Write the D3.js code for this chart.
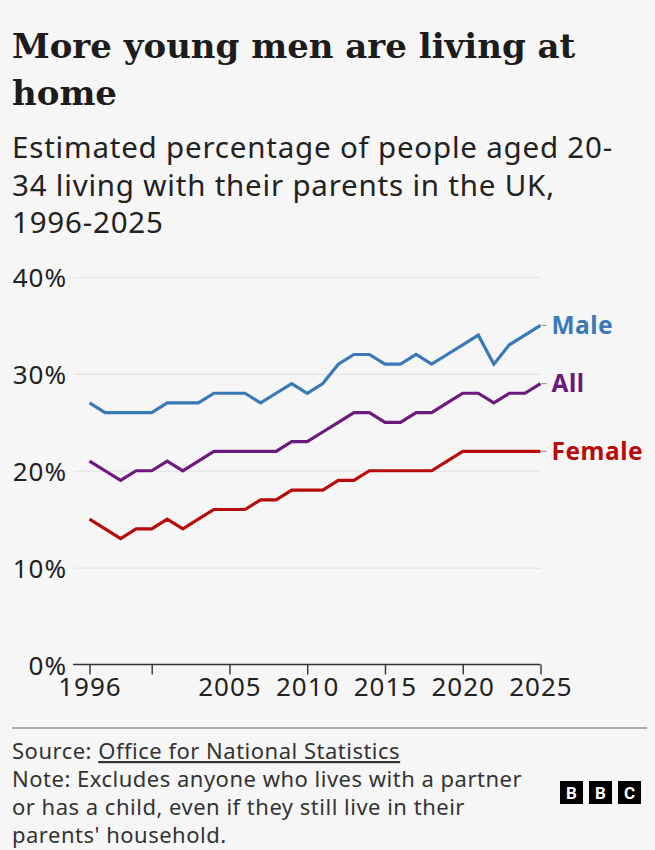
<!DOCTYPE html>
<html>
<head>
<meta charset="utf-8">
<script src="https://cdn.jsdelivr.net/npm/d3@7"></script>
<style>
  html, body { margin: 0; padding: 0; background: #f6f6f6; }
  svg { display: block; }
  .title { font-family: "DejaVu Serif", serif; font-weight: bold; fill: #1c1c1c; }
  .sans { font-family: "Noto Sans", sans-serif; }
</style>
</head>
<body>
<svg id="chart" width="655" height="850"></svg>
<script>
const years = [1996, 1997, 1998, 1999, 2000, 2001, 2002, 2003, 2004, 2005,
  2006, 2007, 2008, 2009, 2010, 2011, 2012, 2013, 2014, 2015,
  2016, 2017, 2018, 2019, 2020, 2021, 2022, 2023, 2024, 2025];
const male = [27, 26, 26, 26, 26, 27, 27, 27, 28, 28, 28, 27, 28, 29, 28,
  29, 31, 32, 32, 31, 31, 32, 31, 32, 33, 34, 31, 33, 34, 35];
const all = [21, 20, 19, 20, 20, 21, 20, 21, 22, 22, 22, 22, 22, 23, 23,
  24, 25, 26, 26, 25, 25, 26, 26, 27, 28, 28, 27, 28, 28, 29];
const female = [15, 14, 13, 14, 14, 15, 14, 15, 16, 16, 16, 17, 17, 18, 18,
  18, 19, 19, 20, 20, 20, 20, 20, 21, 22, 22, 22, 22, 22, 22];

const xTicks = [1996, 2000, 2005, 2010, 2015, 2020, 2025];
const xTickLabels = ["1996", "", "2005", "2010", "2015", "2020", "2025"];
const yTicks = [0, 10, 20, 30, 40];

const seriesNames = ["Male", "All", "Female"];
const seriesColors = ["#3a79b6", "#6b1a7c", "#b80b0b"];

const titleLines = ["More young men are living at", "home"];
const subtitleLines = [
  "Estimated percentage of people aged 20-",
  "34 living with their parents in the UK,",
  "1996-2025"
];
const noteLines = [
  "Note: Excludes anyone who lives with a partner",
  "or has a child, even if they still live in their",
  "parents' household."
];

const svg = d3.select("#chart");

const x = d3.scaleLinear().domain([1996, 2025]).range([89.5, 540.5]);
const y = d3.scaleLinear().domain([0, 40]).range([664.5, 277]);

// headings
svg.append("g").selectAll("text")
  .data(titleLines)
  .join("text")
  .attr("class", "title")
  .attr("x", 12)
  .attr("y", (d, i) => 58 + i * 47)
  .attr("font-size", 34)
  .text((d) => d);

svg.append("g").selectAll("text")
  .data(subtitleLines)
  .join("text")
  .attr("class", "sans")
  .attr("x", 12)
  .attr("y", (d, i) => 158 + i * 37.5)
  .attr("font-size", 29.5)
  .attr("letter-spacing", 0.8)
  .attr("fill", "#222")
  .text((d) => d);

// y grid + labels
const yAxis = svg.append("g")
  .attr("transform", "translate(74,0)")
  .call(d3.axisLeft(y).tickValues(yTicks).tickSize(-(540.5 - 74)).tickPadding(7).tickFormat((d) => d + "%"));
yAxis.select(".domain").remove();
yAxis.selectAll(".tick line").attr("stroke", "#e3e3e3").attr("stroke-width", 1.2)
  .filter((d) => d === 0).remove();
yAxis.selectAll(".tick text")
  .attr("class", "sans")
  .attr("font-size", 26)
  .attr("letter-spacing", 1)
  .attr("fill", "#222")
  .attr("dy", "0.38em");

// x axis
const xAxis = svg.append("g")
  .attr("transform", `translate(0,${y(0)})`)
  .call(d3.axisBottom(x).tickValues(xTicks).tickSize(10).tickSizeOuter(0).tickPadding(3)
    .tickFormat((d, i) => xTickLabels[i]));
xAxis.select(".domain").attr("d", `M73,0H${x(2025)}`).attr("stroke", "#333").attr("stroke-width", 1.6);
xAxis.selectAll(".tick line").attr("stroke", "#333").attr("stroke-width", 1.4);
xAxis.selectAll(".tick text")
  .attr("class", "sans")
  .attr("font-size", 26)
  .attr("letter-spacing", 1)
  .attr("fill", "#222");

// lines
const series = [male, all, female];
const line = d3.line()
  .x((d, i) => x(years[i]))
  .y((d) => y(d));

svg.append("g").selectAll("path")
  .data(series)
  .join("path")
  .attr("d", (d) => line(d))
  .attr("fill", "none")
  .attr("stroke", (d, i) => seriesColors[i])
  .attr("stroke-width", 3.2)
  .attr("stroke-linejoin", "miter");

// end labels
const labels = svg.append("g");
labels.selectAll("line")
  .data(series)
  .join("line")
  .attr("x1", x(2025) + 1)
  .attr("x2", x(2025) + 6)
  .attr("y1", (d) => y(d[d.length - 1]))
  .attr("y2", (d) => y(d[d.length - 1]))
  .attr("stroke", "#999")
  .attr("stroke-width", 1.2);
labels.selectAll("text")
  .data(series)
  .join("text")
  .attr("class", "sans")
  .attr("x", x(2025) + 11)
  .attr("y", (d) => y(d[d.length - 1]))
  .attr("dy", "0.36em")
  .attr("font-size", 24.5)
  .attr("letter-spacing", 0.5)
  .attr("font-weight", "bold")
  .attr("fill", (d, i) => seriesColors[i])
  .text((d, i) => seriesNames[i]);

// footer
svg.append("line")
  .attr("x1", 12).attr("x2", 647)
  .attr("y1", 728).attr("y2", 728)
  .attr("stroke", "#666").attr("stroke-width", 1.2);

const source = svg.append("text")
  .attr("class", "sans")
  .attr("x", 12)
  .attr("y", 759)
  .attr("font-size", 22)
  .attr("letter-spacing", 0.5)
  .attr("fill", "#333");
source.append("tspan").text("Source: ");
source.append("tspan").attr("text-decoration", "underline").text("Office for National Statistics");

svg.append("g").selectAll("text")
  .data(noteLines)
  .join("text")
  .attr("class", "sans")
  .attr("x", 12)
  .attr("y", (d, i) => 787 + i * 28)
  .attr("font-size", 22)
  .attr("letter-spacing", 0.5)
  .attr("fill", "#333")
  .text((d) => d);

// BBC blocks
const logo = svg.append("g").attr("transform", "translate(560,781)");
const letters = ["B", "B", "C"];
logo.selectAll("rect")
  .data(letters)
  .join("rect")
  .attr("x", (d, i) => i * 29)
  .attr("width", 23)
  .attr("height", 23)
  .attr("fill", "#000");
logo.selectAll("text")
  .data(letters)
  .join("text")
  .attr("x", (d, i) => i * 29 + 11.5)
  .attr("y", 12)
  .attr("dy", "0.36em")
  .attr("text-anchor", "middle")
  .attr("font-family", "Roboto, sans-serif")
  .attr("font-weight", "bold")
  .attr("font-size", 17)
  .attr("fill", "#fff")
  .text((d) => d);
</script>
</body>
</html>
